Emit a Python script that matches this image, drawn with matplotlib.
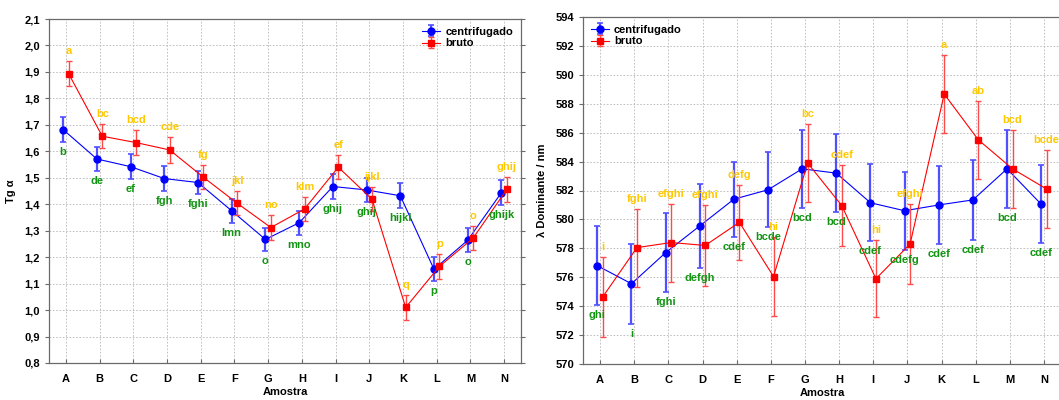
import matplotlib
matplotlib.use("Agg")
import matplotlib.pyplot as plt
from matplotlib.ticker import FuncFormatter, MultipleLocator
import numpy as np

plt.rcParams['font.family'] = ['Liberation Sans', 'DejaVu Sans']
plt.rcParams['font.weight'] = 'bold'

samples = ["A", "B", "C", "D", "E", "F", "G", "H", "I", "J", "K", "L", "M", "N"]

# Left panel: Tg alpha
tg_centrifugado = [1.682, 1.571, 1.542, 1.497, 1.482, 1.375, 1.267, 1.330, 1.467, 1.454, 1.432, 1.154, 1.264, 1.444]
tg_centrifugado_err = [0.046, 0.046, 0.047, 0.047, 0.045, 0.045, 0.045, 0.045, 0.046, 0.046, 0.047, 0.046, 0.046, 0.046]
tg_bruto = [1.894, 1.657, 1.633, 1.605, 1.502, 1.404, 1.312, 1.382, 1.540, 1.419, 1.010, 1.165, 1.272, 1.456]
tg_bruto_err = [0.046, 0.046, 0.046, 0.048, 0.045, 0.045, 0.046, 0.045, 0.046, 0.046, 0.046, 0.046, 0.046, 0.046]
tg_lab_centrifugado = ["b", "de", "ef", "fgh", "fghi", "lmn", "o", "mno", "ghij", "ghij", "hijkl", "p", "o", "ghijk"]
tg_lab_bruto = ["a", "bc", "bcd", "cde", "fg", "jkl", "no", "klm", "ef", "ijkl", "q", "p", "o", "ghij"]

# Right panel: dominant wavelength
wl_centrifugado = [576.8, 575.55, 577.7, 579.55, 581.4, 582.05, 583.5, 583.2, 581.15, 580.6, 581.0, 581.35, 583.5, 581.05]
wl_centrifugado_err = [2.75, 2.75, 2.75, 2.9, 2.6, 2.6, 2.7, 2.7, 2.65, 2.7, 2.7, 2.75, 2.7, 2.7]
wl_bruto = [574.65, 578.05, 578.4, 578.2, 579.8, 576.05, 583.9, 580.95, 575.9, 578.3, 588.67, 585.5, 583.5, 582.1]
wl_bruto_err = [2.75, 2.7, 2.7, 2.8, 2.6, 2.7, 2.7, 2.8, 2.65, 2.75, 2.7, 2.7, 2.7, 2.7]
wl_lab_centrifugado = ["ghi", "i", "fghi", "defgh", "cdef", "bcde", "bcd", "bcd", "cdef", "cdefg", "cdef", "cdef", "bcd", "cdef"]
wl_lab_bruto = ["i", "fghi", "efghi", "efghi", "defg", "hi", "bc", "cdef", "hi", "efghi", "a", "ab", "bcd", "bcde"]

BLUE = "#0000ff"
BLUE_ERR = "#5050ff"
RED = "#ff0000"
RED_ERR = "#ff4a4a"
GOLD = "#ffc800"
GREEN = "#129412"

fig = plt.figure(figsize=(10.59, 4.0), dpi=100)
ax1 = fig.add_axes([49 / 1059, 37 / 400, 472 / 1059, 344 / 400])
ax2 = fig.add_axes([583 / 1059, 36 / 400, 478 / 1059, 347 / 400])

x = np.arange(len(samples))
off = 0.08


def panel(ax, yb, eb, yr, er, lab_b, lab_r, ylim, ystep, fmt, ylabel, legend_loc, legend_anchor):
    hb = ax.errorbar(x - off, yb, yerr=eb, color=BLUE, ecolor=BLUE_ERR, elinewidth=1.6,
                     capsize=2.5, capthick=1.2, lw=0.8, marker='o', ms=5, mec=BLUE, mfc=BLUE,
                     label="centrifugado", zorder=3)
    hr = ax.errorbar(x + off, yr, yerr=er, color=RED, ecolor=RED_ERR, elinewidth=1.0,
                     capsize=2.5, capthick=1.0, lw=0.8, marker='s', ms=5, mec=RED, mfc=RED,
                     label="bruto", zorder=4)
    for i in range(len(samples)):
        ax.annotate(lab_b[i], (x[i] - off, yb[i] - eb[i]), xytext=(0, -10), textcoords='offset pixels',
                    ha='center', va='center', color=GREEN, fontsize=8, fontweight='bold',
                    annotation_clip=False, zorder=5)
        ax.annotate(lab_r[i], (x[i] + off, yr[i] + er[i]), xytext=(0, 10), textcoords='offset pixels',
                    ha='center', va='center', color=GOLD, fontsize=8, fontweight='bold',
                    annotation_clip=False, zorder=5)
    ax.set_xlim(-0.5, 13.5)
    ax.set_ylim(*ylim)
    ax.yaxis.set_major_locator(MultipleLocator(ystep))
    ax.yaxis.set_major_formatter(FuncFormatter(fmt))
    ax.set_xticks(x)
    ax.set_xticklabels(samples)
    ax.grid(True, color="#b8b8b8", linestyle=(0, (2, 2)), linewidth=0.6)
    ax.set_axisbelow(True)
    for s in ax.spines.values():
        s.set_color("#6a6a6a")
        s.set_linewidth(0.9)
    ax.tick_params(axis='x', direction='in', length=3, labelsize=8, pad=8, color="#6a6a6a")
    ax.tick_params(axis='y', direction='out', length=3, labelsize=8, color="#6a6a6a", right=True)
    for t in ax.get_xticklabels() + ax.get_yticklabels():
        t.set_fontweight('bold')
    ax.set_xlabel("Amostra", fontsize=8, fontweight='bold', labelpad=2)
    ax.set_ylabel(ylabel, fontsize=8, fontweight='bold', labelpad=6)
    leg = ax.legend(handles=[hb, hr], loc=legend_loc, bbox_to_anchor=legend_anchor, frameon=False,
                    prop={'size': 8, 'weight': 'bold'}, handlelength=1.6, handletextpad=0.5,
                    labelspacing=0.15, borderaxespad=0.3)
    return leg


panel(ax1, tg_centrifugado, tg_centrifugado_err, tg_bruto, tg_bruto_err,
      tg_lab_centrifugado, tg_lab_bruto, (0.8, 2.1), 0.1,
      lambda v, p: f"{v:.1f}".replace(".", ","), "Tg \u03b1", 'upper right', (1.0, 1.0))
panel(ax2, wl_centrifugado, wl_centrifugado_err, wl_bruto, wl_bruto_err,
      wl_lab_centrifugado, wl_lab_bruto, (570, 594), 2,
      lambda v, p: f"{v:.0f}", "\u03bb Dominante / nm", 'upper left', (0.0, 1.0))

fig.savefig("out.png", dpi=100)
